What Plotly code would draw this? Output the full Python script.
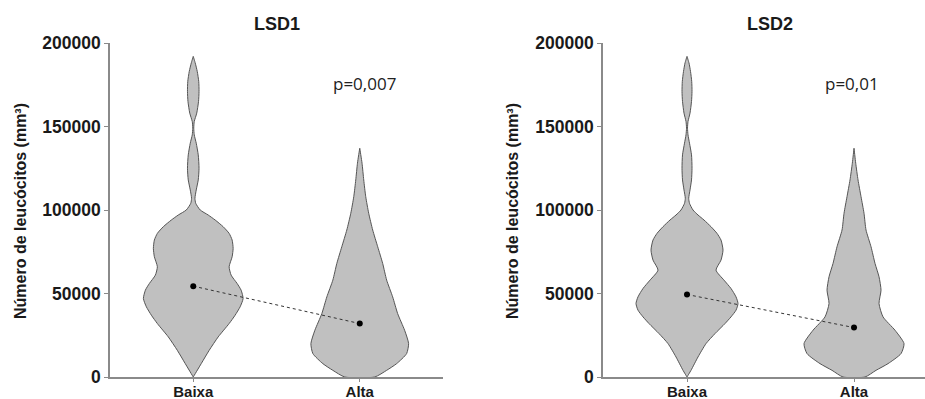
import plotly.graph_objects as go

# ---- data ----
categories = ["Baixa", "Alta"]
panel_titles = ["LSD1", "LSD2"]
p_values = ["p=0,007", "p=0,01"]
y_ticks = [0, 50000, 100000, 150000, 200000]
y_tick_text = ["0", "50000", "100000", "150000", "200000"]

# group means (dots joined by dotted line)
means_lsd1 = [54400, 32000]
means_lsd2 = [49400, 29600]

# violin outlines: levels (thousands) and relative half-widths (density)
lsd1_baixa_levels = [192, 188, 183, 177, 171, 165, 158, 153, 149, 145, 140, 133, 125, 118, 112, 107, 104, 100, 97, 94, 90, 86, 82, 77, 72, 66, 61, 56, 52, 47, 42, 37, 32, 24, 16, 8, 0]
lsd1_baixa_dens = [0, 2, 4, 5.5, 5.8, 5.3, 3.5, 1, 0.5, 1, 3, 5, 5.8, 5, 3, 1.7, 2.5, 7, 15, 22, 30, 36, 39, 40, 39, 36, 38, 44, 48, 50, 47, 42, 36, 25, 16, 8, 0]

lsd1_alta_levels = [137, 128, 118, 108, 98, 88, 78, 68, 58, 48, 38, 28, 20, 14, 8, 4, 0]
lsd1_alta_dens = [0, 2.3, 4, 6, 9, 13, 18, 23, 27, 33, 38, 45, 49, 47, 37, 27, 15]

lsd2_baixa_levels = [192, 188, 183, 177, 171, 165, 158, 153, 149, 145, 140, 133, 125, 118, 112, 107, 104, 100, 97, 94, 90, 86, 82, 76, 70, 64, 58, 53, 48, 44, 40, 36, 32, 26, 20, 12, 4, 0]
lsd2_baixa_dens = [0, 2, 3.5, 4.7, 5, 4.5, 3, 1, 0.5, 1, 2.5, 4.5, 5, 4.5, 3, 1.7, 2.5, 6, 11, 17, 24, 30, 34, 36, 34, 29, 37, 44, 49, 51, 49, 44, 38, 28, 19, 11, 4, 0]

lsd2_alta_levels = [137, 128, 118, 108, 98, 88, 78, 68, 60, 52, 44, 36, 28, 20, 14, 8, 4, 0]
lsd2_alta_dens = [0, 1.7, 4, 7, 10, 12, 17, 21, 25, 27, 25, 29, 41, 50, 47, 34, 22, 11]

# ---- styling ----
FILL = "#c0c0c0"
EDGE = "#555555"
AXIS = "#8a8a8a"
DENS_SCALE = 1.0 / 167.0   # density units -> category units
BOLD = "Liberation Sans, Arial, sans-serif"

fig = go.Figure()


def violin(levels, dens, center, xa, ya):
    xs_r = [center + d * DENS_SCALE for d in dens]
    xs_l = [center - d * DENS_SCALE for d in dens]
    ys = [v * 1000 for v in levels]
    x = xs_r + xs_l[::-1] + [xs_r[0]]
    y = ys + ys[::-1] + [ys[0]]
    fig.add_trace(go.Scatter(x=x, y=y, mode="lines", fill="toself",
                             fillcolor=FILL,
                             line=dict(color=EDGE, width=1, shape="spline", smoothing=0.6),
                             xaxis=xa, yaxis=ya, hoverinfo="skip", showlegend=False))


violin(lsd1_baixa_levels, lsd1_baixa_dens, 0, "x", "y")
violin(lsd1_alta_levels, lsd1_alta_dens, 1, "x", "y")
violin(lsd2_baixa_levels, lsd2_baixa_dens, 0, "x2", "y2")
violin(lsd2_alta_levels, lsd2_alta_dens, 1, "x2", "y2")

for means, xa, ya in [(means_lsd1, "x", "y"), (means_lsd2, "x2", "y2")]:
    fig.add_trace(go.Scatter(x=[0, 1], y=means, mode="lines+markers",
                             line=dict(color="#333333", width=1, dash="dot"),
                             marker=dict(color="black", size=6),
                             xaxis=xa, yaxis=ya, showlegend=False))

W, H = 925, 399
y_dom = [(H - 377) / H, (H - 43) / H]

xcommon = dict(tickvals=[0, 1], ticktext=categories, showline=True, linecolor=AXIS,
               linewidth=1.5, ticks="outside", ticklen=3, tickcolor=AXIS,
               showgrid=False, zeroline=False, automargin=False, ticklabelstandoff=-3,
               tickfont=dict(family=BOLD, size=15, color="#1a1a1a", weight="bold"), fixedrange=True)
ycommon = dict(range=[0, 200000], tickvals=y_ticks, ticktext=y_tick_text, showline=True, linecolor=AXIS,
               linewidth=1.5, ticks="outside", ticklen=4, tickcolor=AXIS,
               showgrid=False, zeroline=False, automargin=False, domain=y_dom,
               tickfont=dict(family=BOLD, size=17.5, color="#1a1a1a", weight="bold"), fixedrange=True)

fig.update_layout(
    width=W, height=H,
    margin=dict(l=0, r=0, t=0, b=0),
    paper_bgcolor="white", plot_bgcolor="white",
    xaxis=dict(xcommon, domain=[110 / W, 443 / W], range=[-0.5, 1.5], anchor="y"),
    yaxis=dict(ycommon, anchor="x"),
    xaxis2=dict(xcommon, domain=[603 / W, 1.0], range=[-0.503, 1.425], anchor="y2"),
    yaxis2=dict(ycommon, anchor="x2"),
)

ann = []
for title, xc in zip(panel_titles, [277, 770]):
    ann.append(dict(text=title, x=xc / W, y=(H - 24) / H, xref="paper", yref="paper",
                    showarrow=False, font=dict(family=BOLD, size=18, color="#1a1a1a", weight="bold"),
                    xanchor="center", yanchor="middle"))
for txt, xa, ya, xv in [(p_values[0], "x", "y", 1.03), (p_values[1], "x2", "y2", 0.99)]:
    ann.append(dict(text=txt, x=xv, y=176000, xref=xa, yref=ya, showarrow=False,
                    font=dict(family="Open Sans, sans-serif", size=17, color="#222222"),
                    xanchor="center", yanchor="middle"))
for xc in [20, 512]:
    ann.append(dict(text="Número de leucócitos (mm³)", x=xc / W, y=(H - 211) / H,
                    xref="paper", yref="paper", textangle=-90, showarrow=False,
                    font=dict(family=BOLD, size=16, color="#1a1a1a", weight="bold"),
                    xanchor="center", yanchor="middle"))
fig.update_layout(annotations=ann)

fig.write_html("out.html")
